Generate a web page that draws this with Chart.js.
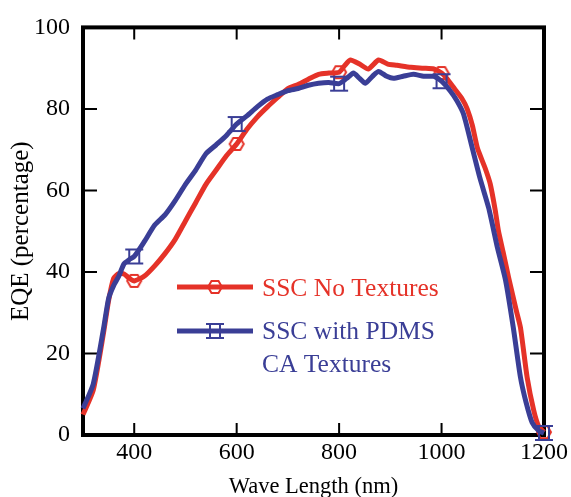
<!DOCTYPE html>
<html>
<head>
<meta charset="utf-8">
<script src="https://cdn.jsdelivr.net/npm/chart.js@4.4.1/dist/chart.umd.min.js"></script>
<style>
  html, body { margin: 0; padding: 0; background: #fff; }
  #wrap { width: 571px; height: 497px; }
</style>
</head>
<body>
<div id="wrap"><canvas id="eqeChart" width="571" height="497"></canvas></div>
<script>
// values (wavelength in nm, EQE in %)
const redWave = [300, 320, 340, 350, 360, 370, 380, 390, 400, 420, 440, 460, 480, 500, 520, 540, 560, 580, 600,
    620, 640, 660, 680, 700, 720, 740, 760, 780, 800, 810, 822, 840, 857, 877, 895, 913, 940, 965, 985, 1000,
    1010, 1025, 1040, 1050, 1060, 1070, 1085, 1095, 1105, 1111, 1120, 1131, 1145, 1154, 1167, 1180, 1190, 1200];
const redEqe = [5, 11, 25, 33, 38.5, 39.6, 39.5, 38.5, 37.8, 39, 41.5, 44.5, 48, 52.5, 57, 61.5, 65, 68.5, 71.4,
    75, 78, 80.5, 82.8, 85, 86, 87.3, 88.5, 88.8, 89, 90.5, 92, 91, 89.8, 92, 91, 90.7, 90.2, 90, 89.8, 88.8,
    87.5, 85, 82.5, 80, 76, 70.4, 65.5, 61.6, 55, 50.1, 45, 38.6, 31, 26.4, 14.2, 6, 2, 0.7];

const blueWave = [300, 320, 340, 350, 360, 370, 380, 390, 400, 420, 440, 460, 480, 500, 520, 540, 560, 580, 600,
    620, 640, 660, 680, 700, 720, 740, 760, 780, 800, 815, 828, 840, 851, 865, 877, 893, 906, 925, 945, 965, 985,
    1000, 1017, 1030, 1043, 1060, 1075, 1092, 1109, 1125, 1140, 1154, 1165, 1177, 1190, 1200];
const blueEqe = [6.5, 12.5, 26, 33.5, 36.7, 39, 42, 43, 43.8, 47.5, 51.5, 54, 57.5, 61.5, 65, 69, 71.2, 73.5, 76.3,
    78.3, 80.5, 82.4, 83.5, 84.5, 85, 85.8, 86.3, 86.5, 86.2, 87.5, 88.8, 87.5, 86.3, 88, 89.2, 88, 87.5, 88, 88.5, 88, 88,
    86.8, 84.4, 82, 78.7, 70.4, 63, 55.7, 46, 37.9, 26.4, 14.2, 8, 3, 1, 0.5];

const markerWaves = [400, 600, 800, 1000, 1200];
const xTicks = [400, 600, 800, 1000, 1200];
const yTicks = [0, 20, 40, 60, 80, 100];

const RED = 'rgb(229, 50, 40)';
const BLUE = 'rgb(58, 62, 150)';
const SERIF = '"Liberation Serif", "Times New Roman", serif';

// open hexagon marker for the red series
function makeHexMarker(color) {
    const c = document.createElement('canvas');
    c.width = 18; c.height = 16;
    const g = c.getContext('2d');
    g.strokeStyle = color;
    g.lineWidth = 2;
    g.beginPath();
    g.moveTo(2, 8); g.lineTo(5.5, 2); g.lineTo(12.5, 2); g.lineTo(16, 8);
    g.lineTo(12.5, 14); g.lineTo(5.5, 14); g.closePath();
    g.stroke();
    return c;
}

// box with extended top/bottom bars for the blue series
function makeBoxMarker(color) {
    const c = document.createElement('canvas');
    c.width = 20; c.height = 18;
    const g = c.getContext('2d');
    g.strokeStyle = color;
    g.lineWidth = 2;
    g.strokeRect(5, 2, 10, 14);
    g.beginPath();
    g.moveTo(1, 2); g.lineTo(19, 2);
    g.moveTo(1, 16); g.lineTo(19, 16);
    g.stroke();
    return c;
}

const redMarker = makeHexMarker(RED);
const blueMarker = makeBoxMarker(BLUE);

function toPoints(xs, ys) {
    return xs.map((w, i) => ({ x: w, y: ys[i] }));
}

function markerRadius(ctx) {
    const p = ctx.raw;
    return p && markerWaves.includes(p.x) ? 6 : 0;
}

// frame, inward ticks and the inset legend
const framePlugin = {
    id: 'framePlugin',
    beforeDatasetsDraw(chart) {
        const { ctx, chartArea: a, scales: { x, y } } = chart;
        ctx.save();
        ctx.strokeStyle = '#000';
        ctx.lineWidth = 2;
        ctx.beginPath();
        [400, 600, 800, 1000].forEach(v => {
            const px = x.getPixelForValue(v);
            ctx.moveTo(px, a.bottom); ctx.lineTo(px, a.bottom - 12);
            ctx.moveTo(px, a.top); ctx.lineTo(px, a.top + 12);
        });
        [20, 40, 60, 80].forEach(v => {
            const py = y.getPixelForValue(v);
            ctx.moveTo(a.left, py); ctx.lineTo(a.left + 14, py);
            ctx.moveTo(a.right, py); ctx.lineTo(a.right - 14, py);
        });
        ctx.stroke();
        ctx.lineWidth = 4;
        ctx.strokeRect(a.left, a.top, a.right - a.left, a.bottom - a.top);
        ctx.restore();
    },
    afterDraw(chart) {
        const ctx = chart.ctx;
        ctx.save();
        ctx.lineWidth = 5;
        ctx.strokeStyle = RED;
        ctx.beginPath(); ctx.moveTo(177, 287); ctx.lineTo(253, 287); ctx.stroke();
        ctx.drawImage(redMarker, 215 - redMarker.width / 2, 287 - redMarker.height / 2);
        ctx.strokeStyle = BLUE;
        ctx.beginPath(); ctx.moveTo(177, 331); ctx.lineTo(253, 331); ctx.stroke();
        ctx.drawImage(blueMarker, 215 - blueMarker.width / 2, 331 - blueMarker.height / 2);

        ctx.font = '25.5px ' + SERIF;
        ctx.textBaseline = 'middle';
        ctx.textAlign = 'left';
        ctx.fillStyle = RED;
        ctx.fillText('SSC No Textures', 262, 289);
        ctx.fillStyle = BLUE;
        ctx.fillText('SSC with PDMS', 262, 332);
        ctx.fillText('CA Textures', 262, 365);
        ctx.restore();
    }
};

new Chart(document.getElementById('eqeChart').getContext('2d'), {
    type: 'line',
    data: {
        datasets: [{
            label: 'SSC with PDMS CA Textures',
            data: toPoints(blueWave, blueEqe),
            borderColor: BLUE,
            borderWidth: 5,
            pointStyle: blueMarker,
            pointRadius: markerRadius,
            pointHoverRadius: markerRadius,
            tension: 0.2,
            fill: false,
            clip: false
        }, {
            label: 'SSC No Textures',
            data: toPoints(redWave, redEqe),
            borderColor: RED,
            borderWidth: 5,
            pointStyle: redMarker,
            pointRadius: markerRadius,
            pointHoverRadius: markerRadius,
            tension: 0.2,
            fill: false,
            clip: false
        }]
    },
    options: {
        responsive: false,
        animation: false,
        events: [],
        layout: { padding: { top: 26, right: 27, bottom: 0, left: 0 } },
        scales: {
            x: {
                type: 'linear',
                min: 300,
                max: 1200,
                afterBuildTicks: scale => { scale.ticks = xTicks.map(v => ({ value: v })); },
                afterFit: scale => { scale.height = 62; },
                grid: { display: false, drawTicks: false },
                border: { display: false },
                ticks: {
                    padding: 3,
                    color: '#000',
                    font: { family: SERIF, size: 24 },
                    maxRotation: 0,
                    callback: v => String(v)
                },
                title: {
                    display: true,
                    text: 'Wave Length (nm)',
                    color: '#000',
                    font: { family: SERIF, size: 22.5, lineHeight: 1 },
                    padding: { top: 0, bottom: -1 }
                }
            },
            y: {
                min: 0,
                max: 100,
                afterBuildTicks: scale => { scale.ticks = yTicks.map(v => ({ value: v })); },
                afterFit: scale => { scale.width = 83; },
                grid: { display: false, drawTicks: false },
                border: { display: false },
                ticks: {
                    padding: 13,
                    color: '#000',
                    font: { family: SERIF, size: 24 },
                    callback: v => String(v)
                },
                title: {
                    display: true,
                    text: 'EQE (percentage)',
                    color: '#000',
                    font: { family: SERIF, size: 25, lineHeight: 1 },
                    padding: { top: 9, bottom: 0 }
                }
            }
        },
        plugins: {
            legend: { display: false },
            tooltip: { enabled: false }
        }
    },
    plugins: [framePlugin]
});
</script>
</body>
</html>
